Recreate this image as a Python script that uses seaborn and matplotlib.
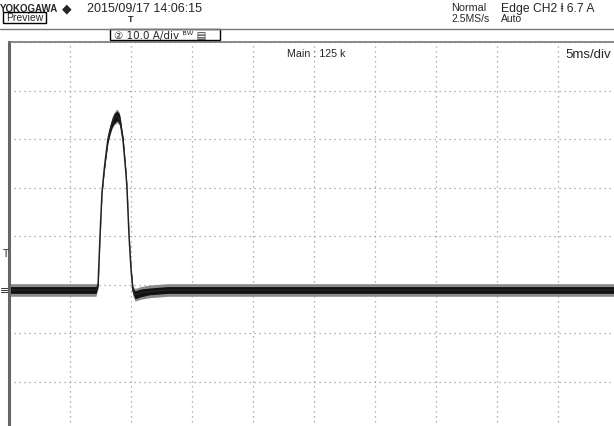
import numpy as np
import matplotlib
matplotlib.use("Agg")
import matplotlib.pyplot as plt
import seaborn as sns

# trace: time in ms, current in A (ground = 0 A)
time_ms = [0.0, 3.0, 7.13, 7.30, 7.46, 7.62, 7.79, 7.95, 8.11, 8.28, 8.44,
           8.61, 8.77, 8.85, 9.02, 9.10, 9.18, 9.26, 9.34, 9.59, 9.67,
           9.84, 10.0, 10.16, 10.33, 10.8, 11.5, 13.0, 30.0, 50.0]
current_a = [0.0, 0.0, 0.0, 1.0, 11.1, 20.0, 24.5, 28.0, 31.1, 33.0, 34.4,
             35.3, 35.7, 35.9, 35.4, 34.8, 33.6, 32.2, 31.1, 23.9, 21.0,
             11.1, 4.3, -0.2, -1.0, -0.6, -0.3, 0.0, 0.0, 0.0]
noise_core = [0.7, 0.7, 0.7, 0.4, 0.3, 0.3, 0.4, 0.6, 0.7, 0.8, 0.9,
              1.0, 1.0, 1.0, 1.0, 0.9, 0.8, 0.7, 0.6, 0.4, 0.3,
              0.3, 0.3, 0.6, 0.8, 0.8, 0.7, 0.7, 0.7, 0.7]
noise_spike = [1.3, 1.3, 1.3, 0.6, 0.4, 0.4, 0.5, 0.8, 0.9, 1.0, 1.2,
               1.3, 1.4, 1.4, 1.3, 1.2, 1.0, 0.9, 0.8, 0.5, 0.4,
               0.4, 0.4, 1.0, 1.3, 1.3, 1.3, 1.3, 1.3, 1.3]

amps_per_div = 10.0
ground_div = -1.113       # ground marker position in divisions from centre
ms_per_div = 5.0

t = np.array(time_ms)
i = np.array(current_a)
core = np.array(noise_core)
spike = np.array(noise_spike)

sns.set_style("white")
plt.rcParams['font.family'] = ['Liberation Sans', 'DejaVu Sans']

W, H = 614, 427
fig = plt.figure(figsize=(W / 100, H / 100), dpi=100)

# screen area: x 9..619 px, y 43..431 px (runs past the picture edge)
ax = fig.add_axes([9 / W, 1 - 431 / H, 610 / W, 388 / H])

ax.fill_between(t, i - spike, i + spike, color="#8a8a8a", lw=0)
ax.fill_between(t, i - core, i + core, color="#111111", lw=0)
sns.lineplot(x=t, y=i, color="#222222", lw=1.1, ax=ax)

ax.set_xlim(0, 10 * ms_per_div)
ax.set_ylim((-4 - ground_div) * amps_per_div, (4 - ground_div) * amps_per_div)
ax.set_xticks([k * ms_per_div for k in range(11)])
ax.set_yticks([(k - ground_div) * amps_per_div for k in range(-4, 5)])
ax.tick_params(length=0, labelbottom=False, labelleft=False)
ax.grid(True, color="#9a9a9a", lw=0.9, ls=(0, (1, 3)))
ax.set_xlabel("")
ax.set_ylabel("")
for s in ["right", "bottom"]:
    ax.spines[s].set_visible(False)
ax.spines["left"].set_color("#666666")
ax.spines["left"].set_linewidth(2.2)
ax.spines["top"].set_color("#777777")
ax.spines["top"].set_linewidth(1.2)

ax.text(278 / 610, 0.985, "Main : 125 k", transform=ax.transAxes, fontsize=7.7,
        va="top", ha="left")
ax.text(556 / 610, 0.985, "5ms/div", transform=ax.transAxes, fontsize=9.5,
        va="top", ha="left")


def px(x, y):
    return x / W, 1 - y / H


# header
fig.text(*px(0, 4), "YOKOGAWA", fontsize=7, fontweight="bold", va="top")
fig.text(*px(62, 2), "◆", fontsize=9, va="top", family="DejaVu Sans")
fig.text(*px(6, 13), "Preview", fontsize=7.5, va="top")
fig.add_artist(plt.Rectangle(px(3, 24), 43 / W, 11 / H, fill=False, lw=1, ec="black",
                             transform=fig.transFigure))
fig.text(*px(87, 3), "2015/09/17 14:06:15", fontsize=9, va="top")
fig.text(*px(128, 15), "T", fontsize=6.5, fontweight="bold", va="top")
fig.text(*px(451, 3), "Normal", fontsize=7.8, va="top")
fig.text(*px(451, 14), "2.5MS/s", fontsize=7.5, va="top")
fig.text(*px(501, 3), "Edge CH2 ⱡ 6.7 A", fontsize=8.7, va="top")
fig.text(*px(501, 14), "Auto", fontsize=7.5, va="top")
fig.add_artist(plt.Line2D([0, 1], [1 - 30 / H] * 2, color="#777777", lw=1,
                          transform=fig.transFigure))
fig.add_artist(plt.Rectangle(px(110, 41), 110 / W, 11 / H, fill=True, fc="white", lw=1,
                             ec="black", transform=fig.transFigure))
fig.text(*px(114, 31), "② 10.0 A/div ᴮᵂ ▤", fontsize=7.5, va="top",
         family=["DejaVu Sans"])

# left markers: trigger level and ground
fig.text(*px(3, 249), "T", fontsize=7.5, va="top")
fig.text(*px(0, 286), "≡", fontsize=8, va="top", family="DejaVu Sans")

fig.savefig("out.png", dpi=100)
